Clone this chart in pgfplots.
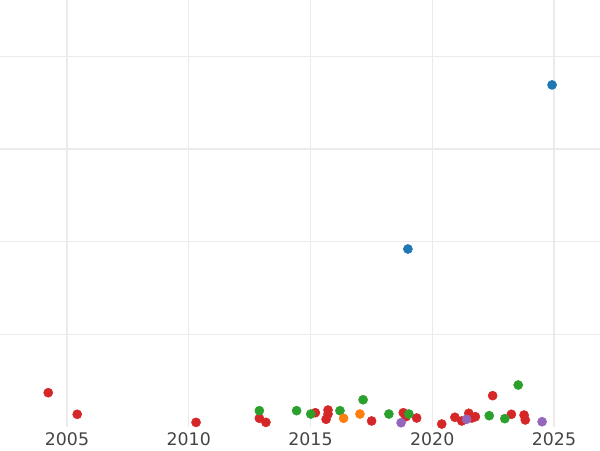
\documentclass[border=0pt]{standalone}
\usepackage{pgfplots}
\pgfplotsset{compat=1.18}
\usepackage{fontspec}
\setmainfont{DejaVu Sans}
\definecolor{cblue}{HTML}{1F77B4}
\definecolor{cgreen}{HTML}{2CA02C}
\definecolor{cred}{HTML}{D62728}
\definecolor{corange}{HTML}{FF7F0E}
\definecolor{cpurple}{HTML}{9467BD}
\definecolor{gridc}{HTML}{EBEBEB}
\definecolor{tickc}{HTML}{444444}
\begin{document}
\begin{tikzpicture}
\path[use as bounding box] (0,-17.25pt) rectangle (450pt,320.25pt);
\begin{axis}[
  at={(0,0)}, anchor=south west,
  scale only axis, width=450pt, height=320.25pt,
  xmin=2002.249, xmax=2026.889, ymin=0, ymax=4.606,
  axis line style={draw=none},
  xtick={2005,2010,2015,2020,2025},
  ytick={1,2,3,4}, yticklabels={},
  xmajorgrids, ymajorgrids,
  grid style={gridc, line width=1pt},
  major tick length=0pt,
  xticklabel style={font=\fontsize{13pt}{15pt}\selectfont, text=tickc, yshift=-1pt},
  /pgf/number format/assume math mode=true,
  /pgf/number format/1000 sep={},
  clip=false,
]
\addplot[only marks, mark=*, mark size=3.4pt, cred, mark options={draw=cred, fill=cred}] coordinates {
(2004.23,0.37) (2005.42,0.137) (2010.30,0.05) (2012.90,0.094) (2013.17,0.05)
(2015.20,0.154) (2015.72,0.183) (2015.72,0.14) (2015.64,0.083) (2017.51,0.065)
(2018.81,0.154) (2018.92,0.111) (2019.36,0.097) (2020.39,0.032) (2020.93,0.105)
(2021.21,0.065) (2021.50,0.148) (2021.77,0.111) (2021.63,0.097) (2022.48,0.338)
(2023.25,0.137) (2023.77,0.129) (2023.82,0.076)
};
\addplot[only marks, mark=*, mark size=3.4pt, cgreen, mark options={draw=cgreen, fill=cgreen}] coordinates {
(2012.90,0.176) (2014.43,0.176) (2015.01,0.14) (2016.21,0.176) (2017.16,0.294)
(2018.22,0.14) (2019.04,0.14) (2022.34,0.122) (2022.98,0.09) (2023.53,0.453)
};
\addplot[only marks, mark=*, mark size=3.4pt, corange, mark options={draw=corange, fill=corange}] coordinates {
(2016.36,0.094) (2017.03,0.14)
};
\addplot[only marks, mark=*, mark size=3.4pt, cpurple, mark options={draw=cpurple, fill=cpurple}] coordinates {
(2018.72,0.046) (2021.41,0.083) (2024.51,0.057)
};
\addplot[only marks, mark=*, mark size=3.4pt, cblue, mark options={draw=cblue, fill=cblue}] coordinates {
(2019.00,1.92) (2024.92,3.69)
};
\end{axis}
\end{tikzpicture}
\end{document}
